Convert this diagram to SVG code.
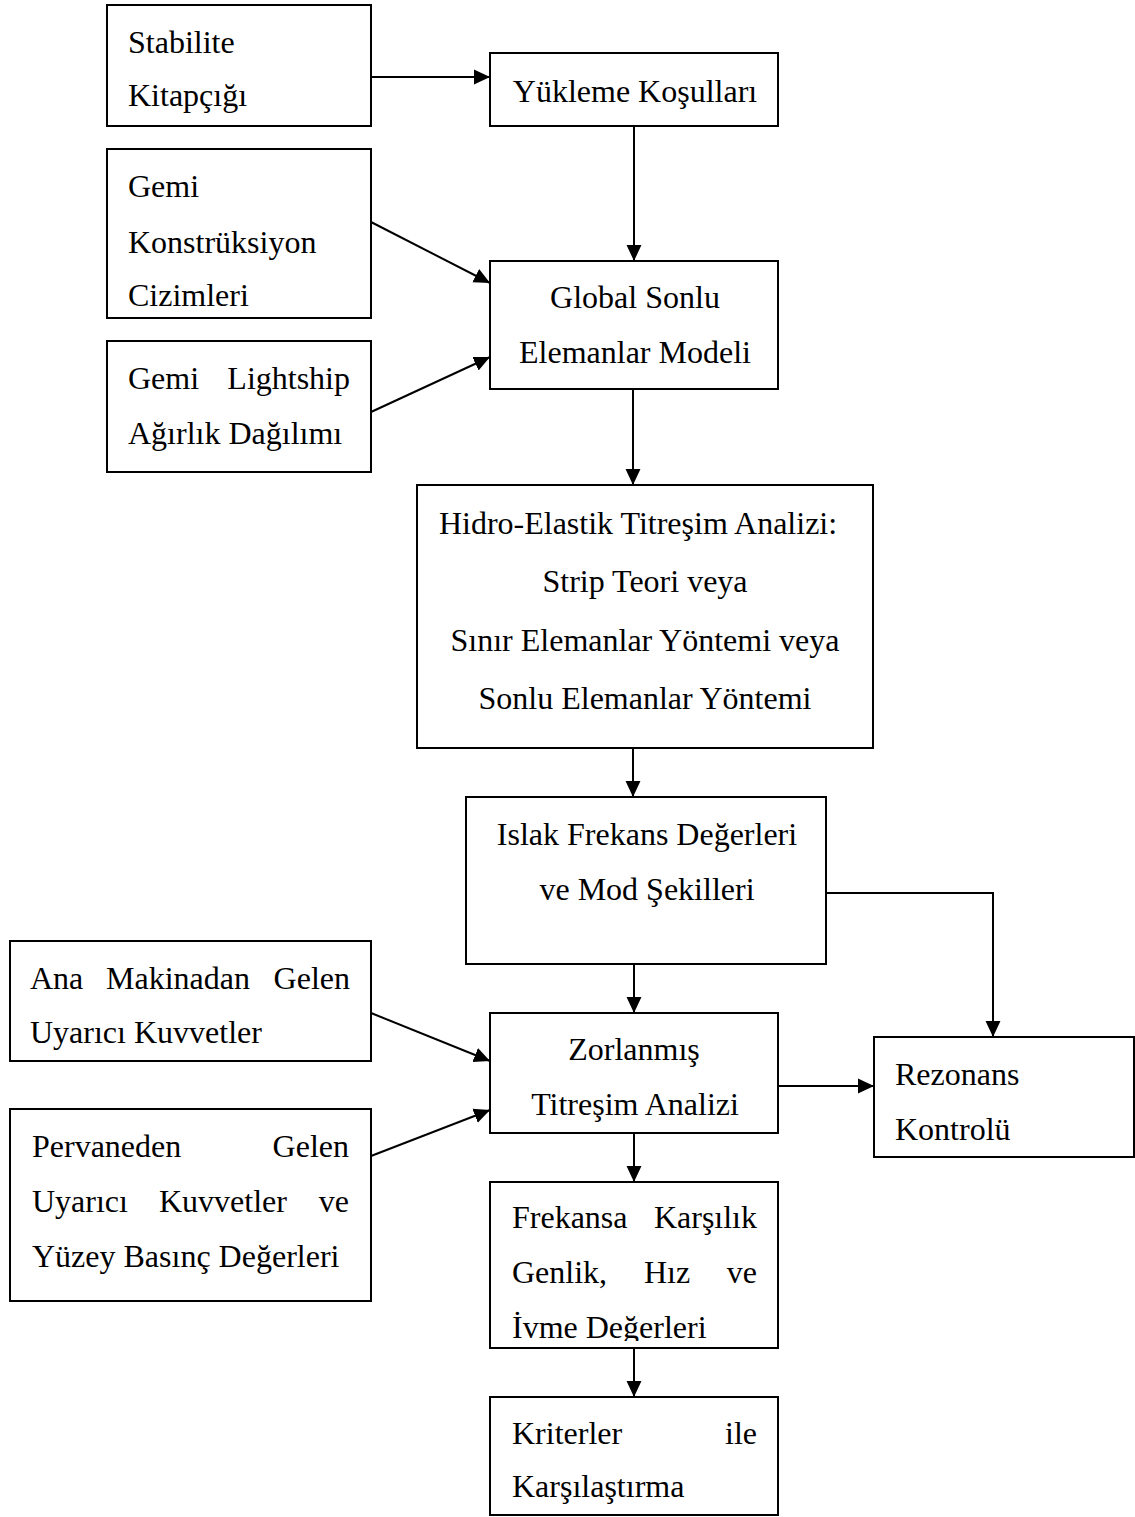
<svg xmlns="http://www.w3.org/2000/svg" width="1135" height="1517" viewBox="0 0 1135 1517">
<style>
  .box { fill: #ffffff; stroke: #000000; stroke-width: 2; }
  .t { font-family: "Liberation Serif", "Times New Roman", serif; font-size: 32px; fill: #000000; }
  .c { text-anchor: middle; }
  .e { text-anchor: end; }
  .conn { fill: none; stroke: #000000; stroke-width: 2; }
</style>
<defs>
  <marker id="arr" markerUnits="userSpaceOnUse" markerWidth="16" markerHeight="16" viewBox="0 0 15 14" refX="15" refY="7" orient="auto">
    <path d="M0,0 L15,7 L0,14 Z" fill="#000000"/>
  </marker>
  <clipPath id="clipFrek"><rect x="490" y="1182" width="288" height="159"/></clipPath>
</defs>
<rect x="0" y="0" width="1135" height="1517" fill="#ffffff"/>

<g id="connectors">
  <line class="conn" x1="371" y1="77" x2="490" y2="77" marker-end="url(#arr)"/>
  <line class="conn" x1="634" y1="126" x2="634" y2="261" marker-end="url(#arr)"/>
  <line class="conn" x1="371" y1="222" x2="490" y2="283" marker-end="url(#arr)"/>
  <line class="conn" x1="371" y1="412" x2="490" y2="357" marker-end="url(#arr)"/>
  <line class="conn" x1="633" y1="389" x2="633" y2="485" marker-end="url(#arr)"/>
  <line class="conn" x1="633" y1="748" x2="633" y2="797" marker-end="url(#arr)"/>
  <line class="conn" x1="634" y1="964" x2="634" y2="1013" marker-end="url(#arr)"/>
  <polyline class="conn" points="826,893 993,893 993,1037" marker-end="url(#arr)"/>
  <line class="conn" x1="371" y1="1013" x2="490" y2="1061" marker-end="url(#arr)"/>
  <line class="conn" x1="371" y1="1156" x2="490" y2="1110" marker-end="url(#arr)"/>
  <line class="conn" x1="778" y1="1086" x2="874" y2="1086" marker-end="url(#arr)"/>
  <line class="conn" x1="634" y1="1133" x2="634" y2="1182" marker-end="url(#arr)"/>
  <line class="conn" x1="634" y1="1348" x2="634" y2="1397" marker-end="url(#arr)"/>
</g>

<g id="stabilite">
  <rect class="box" x="107" y="5" width="264" height="121"/>
  <text class="t" x="128" y="53">Stabilite</text>
  <text class="t" x="128" y="106">Kitapçığı</text>
</g>

<g id="yukleme">
  <rect class="box" x="490" y="53" width="288" height="73"/>
  <text class="t c" x="635" y="102">Yükleme Koşulları</text>
</g>

<g id="konstruksiyon">
  <rect class="box" x="107" y="149" width="264" height="169"/>
  <text class="t" x="128" y="197">Gemi</text>
  <text class="t" x="128" y="253">Konstrüksiyon</text>
  <text class="t" x="128" y="306">Cizimleri</text>
</g>

<g id="global">
  <rect class="box" x="490" y="261" width="288" height="128"/>
  <text class="t c" x="635" y="308">Global Sonlu</text>
  <text class="t c" x="635" y="363">Elemanlar Modeli</text>
</g>

<g id="lightship">
  <rect class="box" x="107" y="341" width="264" height="131"/>
  <text class="t" x="128" y="389">Gemi</text>
  <text class="t e" x="350" y="389">Lightship</text>
  <text class="t" x="128" y="444">Ağırlık Dağılımı</text>
</g>

<g id="hidro">
  <rect class="box" x="417" y="485" width="456" height="263"/>
  <text class="t c" x="638" y="534">Hidro-Elastik Titreşim Analizi:</text>
  <text class="t c" x="645" y="592">Strip Teori veya</text>
  <text class="t c" x="645" y="651">Sınır Elemanlar Yöntemi veya</text>
  <text class="t c" x="645" y="709">Sonlu Elemanlar Yöntemi</text>
</g>

<g id="islak">
  <rect class="box" x="466" y="797" width="360" height="167"/>
  <text class="t c" x="647" y="845">Islak Frekans Değerleri</text>
  <text class="t c" x="647" y="900">ve Mod Şekilleri</text>
</g>

<g id="anamakina">
  <rect class="box" x="10" y="941" width="361" height="120"/>
  <text class="t" x="30" y="989">Ana</text>
  <text class="t" x="106" y="989">Makinadan</text>
  <text class="t e" x="350" y="989">Gelen</text>
  <text class="t" x="30" y="1043">Uyarıcı Kuvvetler</text>
</g>

<g id="zorlanmis">
  <rect class="box" x="490" y="1013" width="288" height="120"/>
  <text class="t c" x="634" y="1060">Zorlanmış</text>
  <text class="t c" x="635" y="1115">Titreşim Analizi</text>
</g>

<g id="rezonans">
  <rect class="box" x="874" y="1037" width="260" height="120"/>
  <text class="t" x="895" y="1085">Rezonans</text>
  <text class="t" x="895" y="1140">Kontrolü</text>
</g>

<g id="pervane">
  <rect class="box" x="10" y="1109" width="361" height="192"/>
  <text class="t" x="32" y="1157">Pervaneden</text>
  <text class="t e" x="349" y="1157">Gelen</text>
  <text class="t" x="32" y="1212">Uyarıcı</text>
  <text class="t" x="159" y="1212">Kuvvetler</text>
  <text class="t e" x="349" y="1212">ve</text>
  <text class="t" x="32" y="1267">Yüzey Basınç Değerleri</text>
</g>

<g id="frekansa">
  <rect class="box" x="490" y="1182" width="288" height="166"/>
  <g clip-path="url(#clipFrek)">
    <text class="t" x="512" y="1228">Frekansa</text>
    <text class="t e" x="757" y="1228">Karşılık</text>
    <text class="t" x="512" y="1283">Genlik,</text>
    <text class="t" x="644" y="1283">Hız</text>
    <text class="t e" x="757" y="1283">ve</text>
    <text class="t" x="512" y="1338">İvme Değerleri</text>
  </g>
</g>

<g id="kriterler">
  <rect class="box" x="490" y="1397" width="288" height="118"/>
  <text class="t" x="512" y="1444">Kriterler</text>
  <text class="t e" x="757" y="1444">ile</text>
  <text class="t" x="512" y="1497">Karşılaştırma</text>
</g>
</svg>
